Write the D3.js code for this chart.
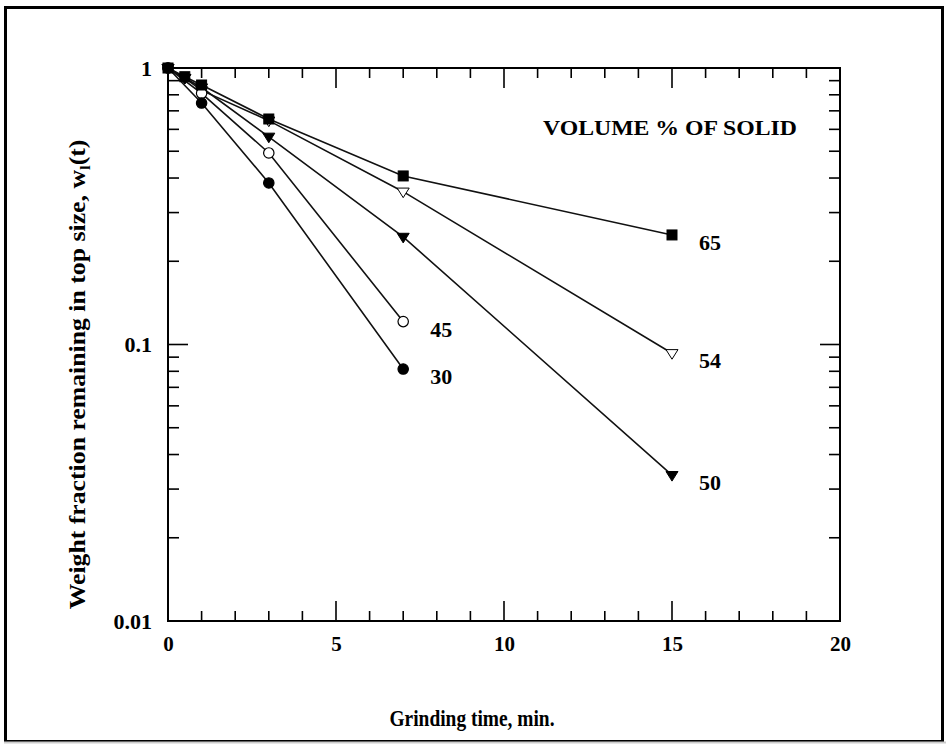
<!DOCTYPE html>
<html>
<head>
<meta charset="utf-8">
<script src="https://cdn.jsdelivr.net/npm/d3@7"></script>
<style>
  html, body { margin: 0; padding: 0; background: #fff; }
  svg { display: block; }
  text { font-family: "Liberation Serif", "Times New Roman", serif; font-weight: bold; fill: #000; }
</style>
</head>
<body>
<svg id="chart" width="946" height="744"></svg>
<script>
// Grinding time (min) and weight fraction remaining for each solids loading
const series65 = [[0, 1], [0.5, 0.93], [1, 0.868], [3, 0.654], [7, 0.407], [15, 0.249]];
const series54 = [[0, 1], [0.5, 0.92], [1, 0.83], [3, 0.645], [7, 0.357], [15, 0.093]];
const series50 = [[0, 1], [0.5, 0.92], [1, 0.85], [3, 0.564], [7, 0.245], [15, 0.0337]];
const series45 = [[0, 1], [1, 0.81], [3, 0.493], [7, 0.121]];
const series30 = [[0, 1], [1, 0.747], [3, 0.384], [7, 0.0815]];

const seriesNames = ["65", "54", "50", "45", "30"];
const seriesData = [series65, series54, series50, series45, series30];
const seriesSymbols = ["squareFilled", "triangleOpen", "triangleFilled", "circleOpen", "circleFilled"];
// markers are stacked in this order (last on top)
const markerOrder = [1, 2, 3, 0, 4];

const xTickValues = [0, 5, 10, 15, 20];
const yTickValues = [0.01, 0.1, 1];
const yTickLabels = ["0.01", "0.1", "1"];

const xTitle = "Grinding time, min.";
const yTitle = "Weight fraction remaining in top size, w";
const legendTitle = "VOLUME % OF SOLID";

const svg = d3.select("#chart");

// outer frame
svg.append("rect").attr("x", 5.5).attr("y", 7.5).attr("width", 937).attr("height", 734)
  .attr("fill", "none").attr("stroke", "#000").attr("stroke-width", 3);
svg.append("line").attr("x1", 4).attr("x2", 946).attr("y1", 742.5).attr("y2", 742.5)
  .attr("stroke", "#ccc").attr("stroke-width", 2);

const L = 168, R = 840, T = 68, B = 621;
const x = d3.scaleLinear().domain([0, 20]).range([L, R]);
const y = d3.scaleLog().domain([0.01, 1]).range([B, T]);

const g = svg.append("g");

// minor / major ticks, drawn inward on all four sides
const xMinor = d3.range(0, 21, 1).filter(v => v % 5 !== 0);
const yMinor = [];
[0.01, 0.1].forEach(d => { for (let k = 2; k <= 9; k++) yMinor.push(d * k); });

const tickG = g.append("g").attr("stroke", "#000").attr("stroke-width", 1.6);
xMinor.forEach(v => {
  tickG.append("line").attr("x1", x(v)).attr("x2", x(v)).attr("y1", B).attr("y2", B - 10);
  tickG.append("line").attr("x1", x(v)).attr("x2", x(v)).attr("y1", T).attr("y2", T + 10);
});
xTickValues.forEach(v => {
  tickG.append("line").attr("x1", x(v)).attr("x2", x(v)).attr("y1", B).attr("y2", B - 20);
  tickG.append("line").attr("x1", x(v)).attr("x2", x(v)).attr("y1", T).attr("y2", T + 20);
});
yMinor.forEach(v => {
  tickG.append("line").attr("x1", L).attr("x2", L + 11).attr("y1", y(v)).attr("y2", y(v));
  tickG.append("line").attr("x1", R).attr("x2", R - 11).attr("y1", y(v)).attr("y2", y(v));
});
yTickValues.forEach(v => {
  tickG.append("line").attr("x1", L).attr("x2", L + 20).attr("y1", y(v)).attr("y2", y(v));
  tickG.append("line").attr("x1", R).attr("x2", R - 20).attr("y1", y(v)).attr("y2", y(v));
});

// plot frame
g.append("rect").attr("x", L).attr("y", T).attr("width", R - L).attr("height", B - T)
  .attr("fill", "none").attr("stroke", "#000").attr("stroke-width", 2);

// tick labels via axis generators (lines hidden)
const xAxis = d3.axisBottom(x).tickValues(xTickValues).tickSize(0).tickPadding(15).tickFormat(d3.format("d"));
const xa = g.append("g").attr("transform", `translate(0,${B})`).call(xAxis);
xa.select(".domain").remove();
xa.selectAll("text").attr("font-size", 21).attr("font-family", "Liberation Serif").attr("font-weight", "bold");

const yAxis = d3.axisLeft(y).tickValues(yTickValues).tickSize(0).tickPadding(16)
  .tickFormat((d, i) => yTickLabels[i]);
const ya = g.append("g").attr("transform", `translate(${L},0)`).call(yAxis);
ya.select(".domain").remove();
ya.selectAll("text").attr("font-size", 22).attr("font-family", "Liberation Serif").attr("font-weight", "bold");

// series lines
const line = d3.line().x(d => x(d[0])).y(d => y(d[1]));
seriesData.forEach(data => {
  g.append("path").datum(data).attr("d", line)
    .attr("fill", "none").attr("stroke", "#111").attr("stroke-width", 1.6);
});

// markers
function drawMarker(sel, kind, px, py) {
  const filled = kind.endsWith("Filled");
  const fill = filled ? "#000" : "#fff";
  if (kind.startsWith("square")) {
    sel.append("rect").attr("x", px - 5).attr("y", py - 5).attr("width", 10).attr("height", 10)
      .attr("fill", fill).attr("stroke", "#000").attr("stroke-width", 1);
  } else if (kind.startsWith("triangle")) {
    const s = 6;
    sel.append("path").attr("d", `M${px - s},${py - s * 0.6}L${px + s},${py - s * 0.6}L${px},${py + s * 1.0}Z`)
      .attr("fill", fill).attr("stroke", "#000").attr("stroke-width", 1);
  } else {
    sel.append("circle").attr("cx", px).attr("cy", py).attr("r", 5.2)
      .attr("fill", fill).attr("stroke", "#000").attr("stroke-width", 1.2);
  }
}
const mg = g.append("g");
markerOrder.forEach(i => {
  seriesData[i].forEach(d => drawMarker(mg, seriesSymbols[i], x(d[0]), y(d[1])));
});

// end-of-line labels
const labelG = g.append("g").attr("font-size", 22);
seriesData.forEach((data, i) => {
  const last = data[data.length - 1];
  labelG.append("text").attr("x", x(last[0]) + 27).attr("y", y(last[1]) + 15).text(seriesNames[i]);
});

// legend caption
g.append("text").attr("x", 543).attr("y", 135).attr("font-size", 20)
  .attr("textLength", 254).attr("lengthAdjust", "spacingAndGlyphs").text(legendTitle);

// axis titles
g.append("text").attr("x", 472).attr("y", 726).attr("text-anchor", "middle")
  .attr("font-size", 24).attr("textLength", 165).attr("lengthAdjust", "spacingAndGlyphs").text(xTitle);
const yt = g.append("text").attr("transform", `translate(85,${(T + B) / 2 + 30}) rotate(-90) scale(1.12,1)`)
  .attr("text-anchor", "middle").attr("font-size", 23);
yt.append("tspan").text(yTitle);
yt.append("tspan").attr("font-size", 15).attr("dy", 5).text("l");
yt.append("tspan").attr("dy", -5).text("(t)");
</script>
</body>
</html>
